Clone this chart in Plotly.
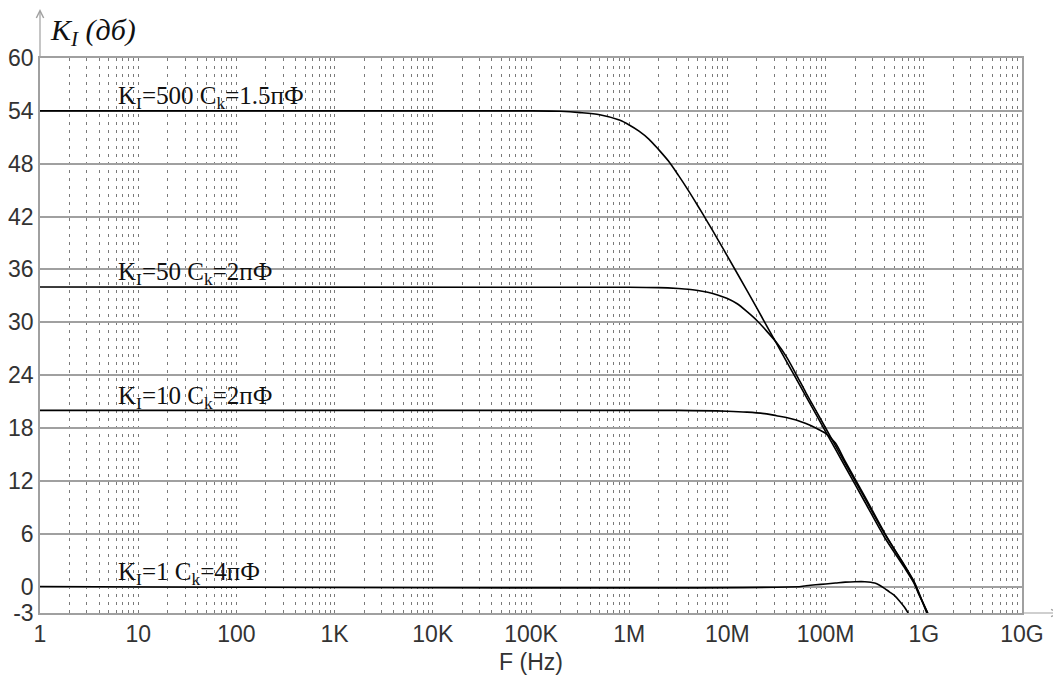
import plotly.graph_objects as go

# ---- data (frequency as log10(Hz), gain in dB) ----
logf_500 = [0, 5.0, 5.3, 5.5, 5.7, 5.9, 6.0, 6.1, 6.2, 6.3, 6.4, 6.5, 6.6, 6.7, 6.8, 6.9,
            7.0, 7.2, 7.4, 7.6, 7.8, 8.0, 8.2, 8.4, 8.6, 8.8, 8.9, 8.95, 9.04]
db_500 = [54, 54, 53.95, 53.8, 53.55, 52.95, 52.4, 51.7, 50.8, 49.6, 48.3, 46.7, 45.0, 43.2,
          41.35, 39.45, 37.5, 33.6, 29.6, 25.6, 21.6, 17.6, 13.6, 9.6, 5.6, 2.2, 0.4, -0.9, -3]

logf_50 = [0, 6.0, 6.3, 6.5, 6.6, 6.7, 6.8, 6.9, 7.0, 7.1, 7.2, 7.3, 7.4, 7.5, 7.6, 7.7,
           7.8, 8.0, 8.2, 8.4, 8.6, 8.8, 8.9, 8.95, 9.03]
db_50 = [34, 33.98, 33.93, 33.83, 33.75, 33.6, 33.4, 33.1, 32.7, 32.1, 31.2, 30.2, 29.0,
         27.7, 26.1, 24.1, 22.0, 18.0, 14.0, 10.0, 6.0, 2.5, 0.6, -0.7, -3]

logf_10 = [0, 6.5, 7.0, 7.2, 7.4, 7.5, 7.6, 7.7, 7.8, 7.9, 8.0, 8.1, 8.2, 8.4, 8.6, 8.8,
           8.9, 8.95, 9.04]
db_10 = [20, 20, 19.9, 19.8, 19.6, 19.4, 19.2, 18.9, 18.5, 18.0, 17.4, 16.3, 14.2, 10.2,
         6.1, 2.4, 0.5, -0.8, -3]

logf_1 = [0, 7.75, 7.8, 7.9, 8.0, 8.1, 8.2, 8.3, 8.4, 8.5, 8.55, 8.6, 8.65, 8.7, 8.75,
          8.8, 8.84]
db_1 = [0, 0, 0.1, 0.2, 0.3, 0.4, 0.5, 0.55, 0.55, 0.4, 0.15, -0.2, -0.6, -1.0, -1.6,
        -2.3, -3]

series = [
    (logf_500, db_500, "K<sub>I</sub>=500 C<sub>k</sub>=1.5пФ", 54),
    (logf_50, db_50, "K<sub>I</sub>=50 C<sub>k</sub>=2пФ", 34),
    (logf_10, db_10, "K<sub>I</sub>=10 C<sub>k</sub>=2пФ", 20),
    (logf_1, db_1, "K<sub>I</sub>=1 C<sub>k</sub>=4пФ", 0),
]

x_tick_vals = [1, 10, 100, 1e3, 1e4, 1e5, 1e6, 1e7, 1e8, 1e9, 1e10]
x_tick_text = ["1", "10", "100", "1K", "10K", "100K", "1M", "10M", "100M", "1G", "10G"]
y_tick_vals = [-3, 0, 6, 12, 18, 24, 30, 36, 42, 48, 54, 60]
y_tick_text = ["-3", "0", "6", "12", "18", "24", "30", "36", "42", "48", "54", "60"]

minor_vals = [m * 10 ** d for d in range(10) for m in range(2, 10)]

fig = go.Figure()
for lf, fy, label, level in series:
    fx = [10 ** v for v in lf]
    fig.add_trace(go.Scatter(x=fx, y=fy, mode="lines",
                             line=dict(color="black", width=1.6, shape="spline", smoothing=0.8),
                             showlegend=False, hoverinfo="skip"))
    fig.add_annotation(x=0.77, y=level + 1.5, xref="x", yref="y", text=label,
                       showarrow=False, xanchor="left", yanchor="middle",
                       font=dict(family="Liberation Serif", size=25, color="#111"))

grid_gray = "#a0a0a0"
dash_gray = "#7a7a7a"
fig.update_xaxes(type="log", range=[0, 10], tickmode="array", tickvals=x_tick_vals,
                 ticktext=x_tick_text, showgrid=True, gridcolor=dash_gray, gridwidth=1,
                 griddash="3px,5px",
                 minor=dict(tickmode="array", tickvals=minor_vals, showgrid=True,
                            gridcolor=dash_gray, gridwidth=1, griddash="3px,5px", ticks=""),
                 showline=True, linecolor=grid_gray, linewidth=1.5, mirror=True,
                 ticks="", zeroline=False, automargin=False,
                 tickfont=dict(family="Liberation Sans", size=23, color="#333"),
                 title=dict(text="F (Hz)", standoff=8,
                            font=dict(family="Liberation Sans", size=23, color="#333")))
fig.update_yaxes(range=[-3, 60], tickmode="array", tickvals=y_tick_vals, ticktext=y_tick_text,
                 showgrid=True, gridcolor=grid_gray, gridwidth=1.5, zeroline=False,
                 showline=True, linecolor=grid_gray, linewidth=1.5, mirror=True,
                 ticks="", automargin=False,
                 tickfont=dict(family="Liberation Sans", size=23, color="#333"))

# axis arrows
fig.add_annotation(xref="paper", yref="paper", x=0, y=1 + 50 / 555, ax=0, ay=50,
                   text="", showarrow=True, arrowhead=5, arrowsize=1.2, arrowwidth=1.2,
                   arrowcolor=grid_gray)
fig.add_annotation(xref="paper", yref="paper", x=1 + 38 / 982, y=0, ax=-38, ay=0,
                   text="", showarrow=True, arrowhead=5, arrowsize=1.2, arrowwidth=1.2,
                   arrowcolor=grid_gray)
# y-axis title
fig.add_annotation(xref="paper", yref="paper", x=8 / 982, y=1 + 26 / 555,
                   text="<i>K<sub>I</sub> (дб)</i>", showarrow=False,
                   xanchor="left", yanchor="middle",
                   font=dict(family="Liberation Serif", size=30, color="#111"))

# page body has an 8px default margin, so the figure is 8px smaller and margins shifted
fig.update_layout(width=1053, height=671, margin=dict(l=32, r=39, t=50, b=66),
                  plot_bgcolor="white", paper_bgcolor="white")

fig.write_html("out.html")
